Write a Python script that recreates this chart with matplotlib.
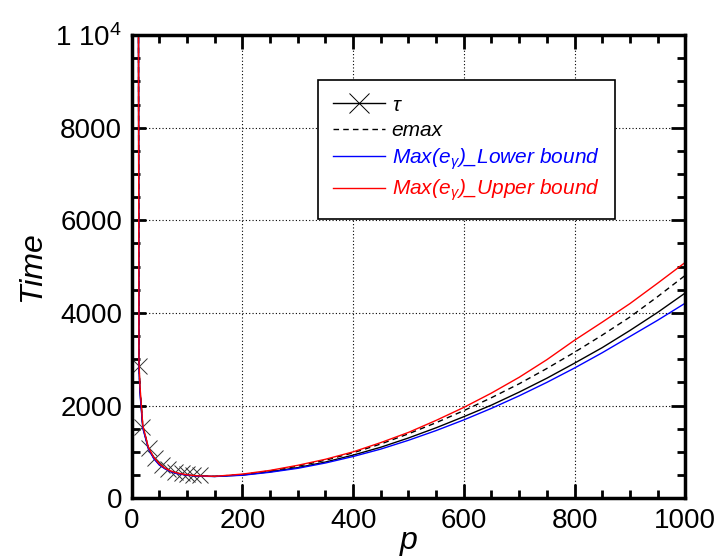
import numpy as np
import matplotlib.pyplot as plt
from matplotlib.ticker import MultipleLocator, FixedLocator, FixedFormatter

plt.rcParams['font.family'] = ['Liberation Sans', 'DejaVu Sans']
plt.rcParams['mathtext.fontset'] = 'custom'
plt.rcParams['mathtext.it'] = 'Liberation Sans:italic'
plt.rcParams['mathtext.rm'] = 'Liberation Sans'

# p grid shared by all curves
p = [12, 13, 15, 20, 30, 40, 50, 60, 70, 80, 90, 100, 110, 120, 150,
     200, 250, 300, 350, 400, 450, 500, 550, 600, 650, 700, 750, 800,
     850, 900, 950, 1000]

# tau (black, markers on first points)
tau = [12000, 2850, 2300, 1530, 1080, 860, 720, 640, 580, 540, 520, 500,
       490, 480, 470, 500, 570, 660, 780, 930, 1100, 1300, 1520, 1760,
       2010, 2290, 2590, 2915, 3250, 3620, 4010, 4430]
tau_marker_p = [13, 18, 31, 42, 54, 66, 78, 90, 100, 111, 123]
tau_marker_v = [2850, 1530, 1080, 860, 710, 640, 570, 540, 530, 500, 490]

emax = [12000, 2900, 2350, 1560, 1090, 870, 730, 645, 585, 545, 520, 500,
        490, 480, 470, 510, 590, 690, 820, 980, 1170, 1390, 1630, 1890,
        2170, 2470, 2800, 3150, 3520, 3910, 4350, 4810]

lower = [12000, 2800, 2250, 1510, 1070, 850, 715, 635, 575, 535, 515, 495,
         485, 475, 468, 495, 560, 645, 760, 900, 1060, 1250, 1460, 1690,
         1940, 2210, 2500, 2810, 3140, 3490, 3840, 4210]

upper = [12000, 2950, 2400, 1570, 1100, 880, 740, 650, 590, 550, 525, 505,
         492, 482, 472, 520, 600, 710, 840, 1000, 1200, 1420, 1680, 1960,
         2270, 2610, 2990, 3410, 3800, 4200, 4640, 5090]

fig = plt.figure(figsize=(7.16, 5.56), dpi=100)
ax = fig.add_axes([0.184, 0.104, 0.773, 0.833])

ax.plot(p, tau, color='black', lw=1)
ax.plot(tau_marker_p, tau_marker_v, ls='none', marker='x', ms=12, mew=0.7,
        color='#333333')
ax.plot([], [], color='black', lw=1, marker='x', ms=14, mew=0.7, label=r'$\tau$')
ax.plot(p, emax, color='black', lw=1, ls=(0, (4, 3)), label='emax')
ax.plot(p, lower, color='blue', lw=1, label=r'Max(e$_{\gamma}$)_Lower bound')
ax.plot(p, upper, color='red', lw=1, label=r'Max(e$_{\gamma}$)_Upper bound')

ax.set_xlim(0, 1000)
ax.set_ylim(0, 10000)
ax.xaxis.set_major_locator(MultipleLocator(200))
ax.xaxis.set_minor_locator(MultipleLocator(50))
ax.yaxis.set_major_locator(FixedLocator([0, 2000, 4000, 6000, 8000, 10000]))
ax.yaxis.set_major_formatter(FixedFormatter(['0', '2000', '4000', '6000', '8000',
                                             r'1 10$^{4}$']))
ax.yaxis.set_minor_locator(MultipleLocator(500))
ax.tick_params(which='both', direction='in', top=True, right=True,
               labelsize=20, width=2, pad=7)
ax.tick_params(which='major', length=10)
ax.tick_params(which='minor', length=6)
for s in ax.spines.values():
    s.set_linewidth(2.5)
ax.grid(True, which='major', ls=(0, (1, 2)), color='black', lw=0.8)

ax.set_xlabel('p', fontsize=23, style='italic', labelpad=-6)
ax.set_ylabel('Time', fontsize=23, style='italic', labelpad=6)

leg = ax.legend(loc='upper left', bbox_to_anchor=(0.336, 0.903), fontsize=15,
                frameon=True, fancybox=False, edgecolor='black',
                framealpha=1, handlelength=2.5, handletextpad=0.3,
                borderpad=0.75, labelspacing=0.3, borderaxespad=0)
leg.get_frame().set_linewidth(1.2)
colors = ['black', 'black', 'blue', 'red']
for t, c in zip(leg.get_texts(), colors):
    t.set_color(c)
    t.set_style('italic')

fig.savefig('out.png', dpi=100)
